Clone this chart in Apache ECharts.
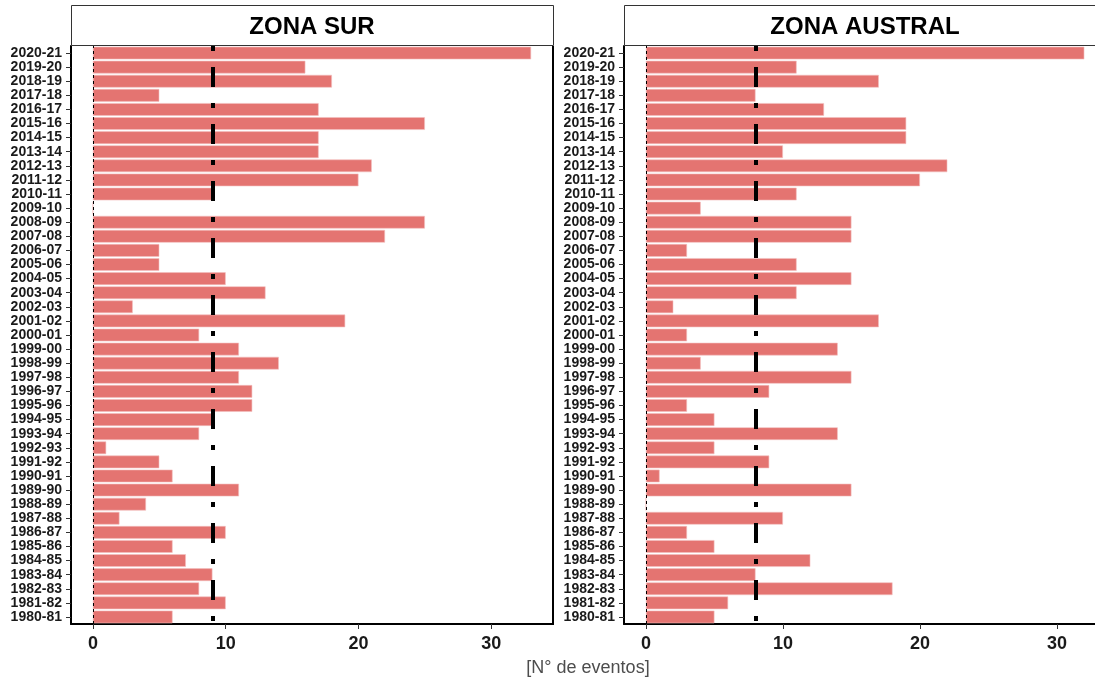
<!DOCTYPE html>
<html><head><meta charset="utf-8">
<script src="https://cdn.jsdelivr.net/npm/echarts@6/dist/echarts.min.js"></script>
<style>html,body{margin:0;padding:0;background:#fff}#c{width:1095px;height:681px}</style>
</head><body><div id="c"></div>
<script>
// Seasons, bottom (1980-81) to top (2020-21)
const seasons = ['1980-81','1981-82','1982-83','1983-84','1984-85','1985-86','1986-87','1987-88','1988-89','1989-90',
  '1990-91','1991-92','1992-93','1993-94','1994-95','1995-96','1996-97','1997-98','1998-99','1999-00',
  '2000-01','2001-02','2002-03','2003-04','2004-05','2005-06','2006-07','2007-08','2008-09','2009-10',
  '2010-11','2011-12','2012-13','2013-14','2014-15','2015-16','2016-17','2017-18','2018-19','2019-20','2020-21'];
const surValues = [6,10,8,9,7,6,10,2,4,11, 6,5,1,8,9,12,12,11,14,11, 8,19,3,13,10,5,5,22,25,0, 9,20,21,17,17,25,17,5,18,16, 33];
const australValues = [5,6,18,8,12,5,3,10,0,15, 1,9,5,14,5,3,9,15,4,14, 3,17,2,11,15,11,3,15,15,4, 11,20,22,10,19,19,13,8,17,11, 32];
const panelTitles = ['ZONA SUR', 'ZONA AUSTRAL'];
const refLines = [9, 8];
const xTicks = [0, 10, 20, 30];
const xTitle = '[N° de eventos]';

const panelValues = [surValues, australValues];
// right panel is cut by the page edge: only the visible part of its range is laid out
const xRanges = [[-1.65, 34.65], [-1.6, 32.78]];
const panelLeft = [71, 624];
const panelW = [482, 471];
const stripW = 482;
const panelTop = 46, panelH = 578;
const barColor = '#E47471';
const txt = '#1a1a1a';
const fontFam = '"Liberation Sans", Arial, sans-serif';

const grids = [], xAxes = [], yAxes = [], series = [], graphics = [];
panelValues.forEach((vals, i) => {
  grids.push({left: panelLeft[i], top: panelTop, width: panelW[i], height: panelH, containLabel: false});
  xAxes.push({
    type: 'value', gridIndex: i, min: xRanges[i][0], max: xRanges[i][1],
    splitLine: {show: false},
    axisLine: {show: true, onZero: false, lineStyle: {color: '#000', width: 2}},
    axisTick: {show: true, customValues: xTicks, length: 5, lineStyle: {color: '#333', width: 1}},
    axisLabel: {customValues: xTicks, fontSize: 18, fontWeight: 'bold', color: txt, margin: 11, fontFamily: fontFam}
  });
  yAxes.push({
    type: 'category', gridIndex: i, data: seasons,
    axisLine: {show: true, onZero: false, lineStyle: {color: '#000', width: 2}},
    axisTick: {show: true, alignWithLabel: true, length: 5, lineStyle: {color: '#333', width: 1}},
    axisLabel: {interval: 0, fontSize: 14, fontWeight: 'bold', color: txt, margin: 9, fontFamily: fontFam},
    splitLine: {show: false}
  });
  series.push({
    type: 'bar', xAxisIndex: i, yAxisIndex: i, data: vals, barWidth: '90%',
    itemStyle: {color: barColor, borderColor: '#F4C0C0', borderWidth: 0.6},
    animation: false, silent: true,
    markLine: {
      silent: true, animation: false, symbol: ['none', 'none'], label: {show: false},
      data: [
        {xAxis: 0, lineStyle: {color: '#000', width: 1, type: [3, 3]}},
        {xAxis: refLines[i], lineStyle: {color: '#000', width: 4, type: [5, 16, 20, 16], dashOffset: 54}}
      ]
    }
  });
  const x0 = panelLeft[i];
  graphics.push({type: 'rect', shape: {x: x0 + 0.5, y: 5.5, width: stripW, height: 40}, style: {fill: '#fff', stroke: '#333', lineWidth: 1}, z: 10});
  graphics.push({type: 'text', x: x0 + stripW / 2, y: 27, style: {text: panelTitles[i], font: 'bold 24px ' + fontFam, fill: '#000', textAlign: 'center', textVerticalAlign: 'middle'}, z: 11});
  graphics.push({type: 'line', shape: {x1: x0 + stripW, y1: 46, x2: x0 + stripW, y2: 625}, style: {stroke: '#000', lineWidth: 2}, z: 10});
});
graphics.push({type: 'text', x: 588, y: 668, style: {text: xTitle, font: '18px ' + fontFam, fill: '#4d4d4d', textAlign: 'center', textVerticalAlign: 'middle'}, z: 11});

const chart = echarts.init(document.getElementById('c'), null, {renderer: 'canvas'});
chart.setOption({
  animation: false,
  backgroundColor: '#fff',
  grid: grids, xAxis: xAxes, yAxis: yAxes, series: series, graphic: graphics
});
</script></body></html>
